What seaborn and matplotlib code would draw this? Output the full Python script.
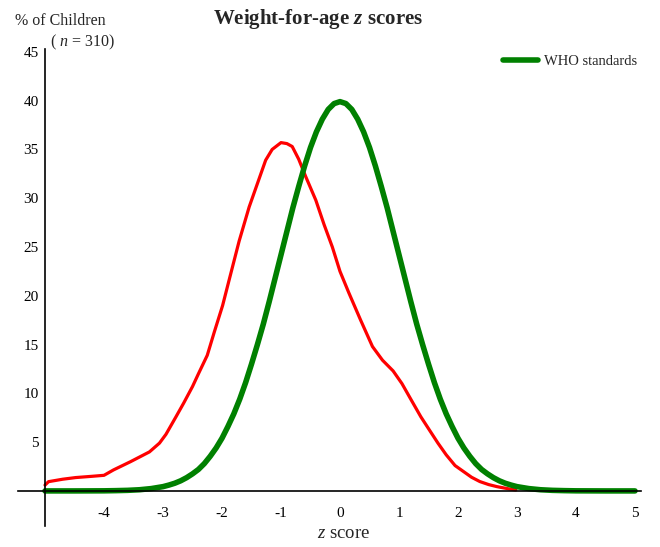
import numpy as np
import pandas as pd
import seaborn as sns
import matplotlib.pyplot as plt

sample_z = [-5.0, -4.94, -4.7, -4.48, -4.2, -4.0, -3.84, -3.55, -3.23, -3.06, -2.95, -2.78,
            -2.65, -2.5, -2.4, -2.25, -2.13, -1.99, -1.88, -1.71, -1.54, -1.4,
            -1.26, -1.15, -1.0, -0.9, -0.81, -0.7, -0.58, -0.41, -0.27, -0.13, 0.0, 0.15,
            0.35, 0.55, 0.72, 0.9, 1.05, 1.2, 1.37, 1.52, 1.66, 1.8, 1.95, 2.09,
            2.23, 2.37, 2.52, 2.66, 2.87, 2.98]
sample_pct = [0.6, 0.95, 1.2, 1.37, 1.5, 1.6, 2.15, 3.0, 4.0, 4.9, 5.8, 7.6,
              9.0, 10.7, 12.0, 13.9, 16.3, 19.0, 21.6, 25.6, 29.1, 31.5,
              33.9, 35.0, 35.7, 35.6, 35.3, 34.0, 32.2, 29.8, 27.3, 25.0, 22.5, 20.3,
              17.5, 14.8, 13.4, 12.3, 11.0, 9.4, 7.6, 6.2, 4.9, 3.7, 2.6, 2.0,
              1.4, 0.96, 0.65, 0.44, 0.2, 0.1]

# WHO reference (green)
who_z = [-5.0, -4.5, -4.0, -3.8, -3.6, -3.4, -3.2, -3.0, -2.9, -2.8, -2.7, -2.6, -2.5,
         -2.4, -2.3, -2.2, -2.1, -2.0, -1.9, -1.8, -1.7, -1.6, -1.5, -1.4, -1.3, -1.2,
         -1.1, -1.0, -0.9, -0.8, -0.7, -0.6, -0.5, -0.4, -0.3, -0.2, -0.1, 0.0,
         0.1, 0.2, 0.3, 0.4, 0.5, 0.6, 0.7, 0.8, 0.9, 1.0, 1.1, 1.2, 1.3,
         1.4, 1.5, 1.6, 1.7, 1.8, 1.9, 2.0, 2.1, 2.2, 2.3, 2.4, 2.5, 2.6,
         2.7, 2.8, 2.9, 3.0, 3.2, 3.4, 3.6, 3.8, 4.0, 4.5, 5.0]
who_pct = [0.0, 0.0, 0.01, 0.03, 0.06, 0.12, 0.24, 0.44, 0.6, 0.79, 1.04, 1.36, 1.75,
           2.2, 2.8, 3.55, 4.4, 5.4, 6.6, 7.9, 9.4, 11.1, 13.0, 15.0, 17.1, 19.4,
           21.8, 24.2, 26.6, 29.0, 31.2, 33.3, 35.2, 36.8, 38.1, 39.1, 39.7, 39.9,
           39.7, 39.1, 38.1, 36.8, 35.2, 33.3, 31.2, 29.0, 26.6, 24.2, 21.8, 19.4, 17.1,
           15.0, 13.0, 11.1, 9.4, 7.9, 6.6, 5.4, 4.4, 3.55, 2.8, 2.2, 1.75, 1.36,
           1.04, 0.79, 0.6, 0.44, 0.24, 0.12, 0.06, 0.03, 0.01, 0.0, 0.0]

x_ticks = [-4, -3, -2, -1, 0, 1, 2, 3, 4, 5]
y_ticks = [5, 10, 15, 20, 25, 30, 35, 40, 45]

sample_df = pd.DataFrame({'z': sample_z, 'pct': sample_pct})
who_df = pd.DataFrame({'z': who_z, 'pct': who_pct})

sns.set_style('white')
plt.rcParams['font.family'] = ['Liberation Serif', 'DejaVu Serif']
plt.rcParams['axes.unicode_minus'] = False
plt.rcParams['mathtext.fontset'] = 'custom'
plt.rcParams['mathtext.rm'] = 'Liberation Serif'
plt.rcParams['mathtext.it'] = 'Liberation Serif:italic'
plt.rcParams['mathtext.bf'] = 'Liberation Serif:bold'
plt.rcParams['mathtext.bfit'] = 'Liberation Serif:italic:bold'

fig = plt.figure(figsize=(6.6, 5.47), dpi=100)
ax = fig.add_axes([0.0235, 0.049, 0.9565, 0.874])

sns.lineplot(data=sample_df, x='z', y='pct', color='#ff0000', linewidth=2.3, ax=ax)
sns.lineplot(data=who_df, x='z', y='pct', color='#008000', linewidth=4.0,
             label='WHO standards', ax=ax)
for line in ax.lines:
    line.set_solid_joinstyle('round')
    line.set_solid_capstyle('round')

ax.set_xlim(-5.5, 5.2)
ax.set_ylim(-3, 46)

for side in ['top', 'right']:
    ax.spines[side].set_visible(False)
ax.spines['left'].set_position(('data', -5))
ax.spines['bottom'].set_position(('data', 0))
ax.spines['left'].set_bounds(-3.6, 45.3)
ax.spines['bottom'].set_bounds(-5.45, 5.1)
for side in ['left', 'bottom']:
    ax.spines[side].set_color('black')
    ax.spines[side].set_linewidth(1.2)

ax.set_xticks(x_ticks)
ax.set_yticks(y_ticks)
ax.tick_params(axis='both', direction='inout', length=7, width=1, colors='black',
               labelsize=11)
ax.tick_params(axis='x', pad=8)
ax.tick_params(axis='y', pad=1)
ax.set_xlabel('')
ax.set_ylabel('')

leg = ax.legend(loc='upper right', bbox_to_anchor=(1.005, 1.0), frameon=False,
                handlelength=2.4, handletextpad=0.4, fontsize=10.5)

fig.text(0.482, 0.965, 'Weight-for-age $\\mathbfit{z}$ scores', ha='center', va='center',
         fontsize=15, fontweight='bold')
fig.text(0.022, 0.962, '% of Children', ha='left', va='center', fontsize=11.5)
fig.text(0.076, 0.922, '( $\\mathit{n}$ = 310)', ha='left', va='center', fontsize=11.5)
fig.text(0.52, 0.024, '$\\mathit{z}$ score', ha='center', va='center', fontsize=13.5)

fig.savefig('out.png', dpi=100)
plt.close()
